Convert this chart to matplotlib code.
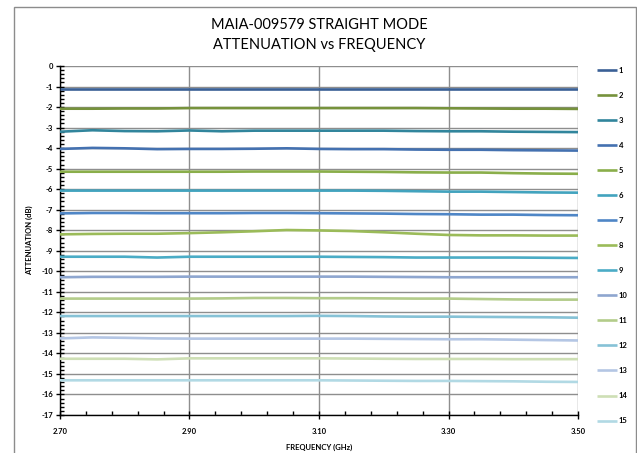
import numpy as np
import matplotlib
matplotlib.use("Agg")
from matplotlib import pyplot as plt
from matplotlib.patches import Rectangle
from matplotlib.ticker import FixedLocator

plt.rcParams['font.family'] = ['Lato', 'DejaVu Sans']

# frequency points (GHz)
freq = [2.70, 2.75, 2.80, 2.85, 2.90, 2.95, 3.00, 3.05, 3.10,
        3.15, 3.20, 3.25, 3.30, 3.35, 3.40, 3.45, 3.50]

# attenuation per state (dB)
s1 = [-1.12, -1.12, -1.12, -1.12, -1.12, -1.12, -1.12, -1.12, -1.12,
      -1.12, -1.12, -1.12, -1.12, -1.12, -1.12, -1.12, -1.12]
s2 = [-2.08, -2.08, -2.07, -2.07, -2.05, -2.05, -2.05, -2.05, -2.05,
      -2.05, -2.05, -2.05, -2.06, -2.07, -2.08, -2.08, -2.09]
s3 = [-3.20, -3.13, -3.17, -3.18, -3.14, -3.18, -3.15, -3.15, -3.15,
      -3.15, -3.15, -3.17, -3.18, -3.18, -3.20, -3.21, -3.22]
s4 = [-4.04, -3.99, -4.01, -4.05, -4.04, -4.04, -4.03, -4.01, -4.04,
      -4.05, -4.05, -4.07, -4.08, -4.08, -4.10, -4.11, -4.12]
s5 = [-5.15, -5.15, -5.15, -5.15, -5.15, -5.15, -5.14, -5.14, -5.14,
      -5.15, -5.16, -5.18, -5.19, -5.19, -5.22, -5.24, -5.25]
s6 = [-6.07, -6.07, -6.07, -6.07, -6.07, -6.07, -6.07, -6.07, -6.07,
      -6.07, -6.08, -6.10, -6.12, -6.12, -6.14, -6.16, -6.17]
s7 = [-7.18, -7.16, -7.16, -7.17, -7.17, -7.17, -7.16, -7.16, -7.17,
      -7.18, -7.19, -7.21, -7.22, -7.24, -7.24, -7.26, -7.27]
s8 = [-8.20, -8.18, -8.17, -8.17, -8.14, -8.10, -8.05, -7.99, -8.01,
      -8.04, -8.10, -8.17, -8.23, -8.25, -8.25, -8.26, -8.26]
s9 = [-9.29, -9.29, -9.29, -9.33, -9.29, -9.29, -9.29, -9.29, -9.29,
      -9.30, -9.31, -9.33, -9.33, -9.33, -9.33, -9.34, -9.35]
s10 = [-10.29, -10.27, -10.27, -10.27, -10.26, -10.26, -10.26, -10.26, -10.26,
       -10.26, -10.27, -10.28, -10.29, -10.29, -10.29, -10.29, -10.29]
s11 = [-11.33, -11.33, -11.33, -11.33, -11.33, -11.32, -11.30, -11.30, -11.31,
       -11.31, -11.32, -11.33, -11.33, -11.35, -11.37, -11.38, -11.38]
s12 = [-12.18, -12.18, -12.18, -12.18, -12.18, -12.18, -12.18, -12.18, -12.17,
       -12.18, -12.20, -12.21, -12.21, -12.22, -12.23, -12.24, -12.26]
s13 = [-13.27, -13.22, -13.24, -13.27, -13.28, -13.28, -13.28, -13.28, -13.28,
       -13.28, -13.29, -13.30, -13.31, -13.31, -13.33, -13.35, -13.37]
s14 = [-14.26, -14.26, -14.26, -14.29, -14.24, -14.24, -14.24, -14.24, -14.24,
       -14.25, -14.26, -14.27, -14.27, -14.27, -14.28, -14.28, -14.28]
s15 = [-15.31, -15.31, -15.31, -15.31, -15.31, -15.31, -15.31, -15.31, -15.31,
       -15.32, -15.33, -15.34, -15.34, -15.35, -15.36, -15.38, -15.39]

series = [s1, s2, s3, s4, s5, s6, s7, s8, s9, s10, s11, s12, s13, s14, s15]
labels = [str(i) for i in range(1, 16)]

xticks = [2.70, 2.90, 3.10, 3.30, 3.50]
yticks = list(range(-17, 1))

colors = ['#3a6096', '#76923c', '#31859c', '#4471b0', '#8aae4a',
          '#42a3be', '#4f86c6', '#9bbb59', '#4bacc6', '#8ea6cf',
          '#b3cc8a', '#86c2d6', '#b4c6e4', '#cedfb5', '#b1d9e4']

fig = plt.figure(figsize=(6.37, 4.53), dpi=100)
fig.patch.set_facecolor('white')

# chart border
fig.patches.append(Rectangle((14 / 637, -0.02), 622 / 637, 1 - 7 / 453 + 0.02,
                             transform=fig.transFigure, fill=False,
                             edgecolor='#8c8c8c', linewidth=1.0))

ax = fig.add_axes([60 / 637, 1 - 415 / 453, 518 / 637, 349 / 453])

for ys, c, lab in zip(series, colors, labels):
    ax.plot(freq, ys, color=c, linewidth=1.9, label=lab,
            solid_capstyle='butt', zorder=3)

ax.set_xlim(2.70, 3.50)
ax.set_ylim(-17, 0)
ax.set_xticks(xticks, labels=['%.2f' % v for v in xticks],
              fontsize=5.5, fontweight='bold')
ax.set_yticks(yticks, labels=['%d' % v for v in yticks],
              fontsize=5.5, fontweight='bold')
ax.xaxis.set_minor_locator(FixedLocator(np.round(np.arange(2.70, 3.501, 0.04), 2)))
ax.yaxis.set_minor_locator(FixedLocator(np.round(np.arange(-17, 0.01, 0.2), 1)))

ax.grid(True, which='major', color='#8e8e8e', linewidth=1.0, zorder=1)
ax.set_axisbelow(True)

for side in ['top', 'right']:
    ax.spines[side].set_visible(False)
for side in ['left', 'bottom']:
    ax.spines[side].set_color('black')
    ax.spines[side].set_linewidth(1.0)

ax.tick_params(axis='both', which='major', direction='inout', length=6,
               width=1, color='black', pad=2)
ax.tick_params(axis='both', which='minor', direction='in', length=3,
               width=1, color='black')
ax.tick_params(axis='x', which='major', pad=6)

ax.set_xlabel('FREQUENCY (GHz)', fontsize=5.5, fontweight='bold', labelpad=7)
ax.set_ylabel('ATTENUATION (dB)', fontsize=5.5, fontweight='bold', labelpad=6)

fig.text(319 / 637, 1 - 25 / 453, 'MAIA-009579 STRAIGHT MODE',
         ha='center', va='center', fontsize=10.5)
fig.text(319 / 637, 1 - 45 / 453, 'ATTENUATION vs FREQUENCY',
         ha='center', va='center', fontsize=10.5)

leg = fig.legend(loc='upper left', bbox_to_anchor=(593 / 637, 1 - 63 / 453),
                 frameon=False, fontsize=5.5, handlelength=2.6,
                 handletextpad=0.3, labelspacing=2.36, borderpad=0,
                 prop={'size': 5.5, 'weight': 'bold'})

fig.savefig('out.png', dpi=100, facecolor='white')
